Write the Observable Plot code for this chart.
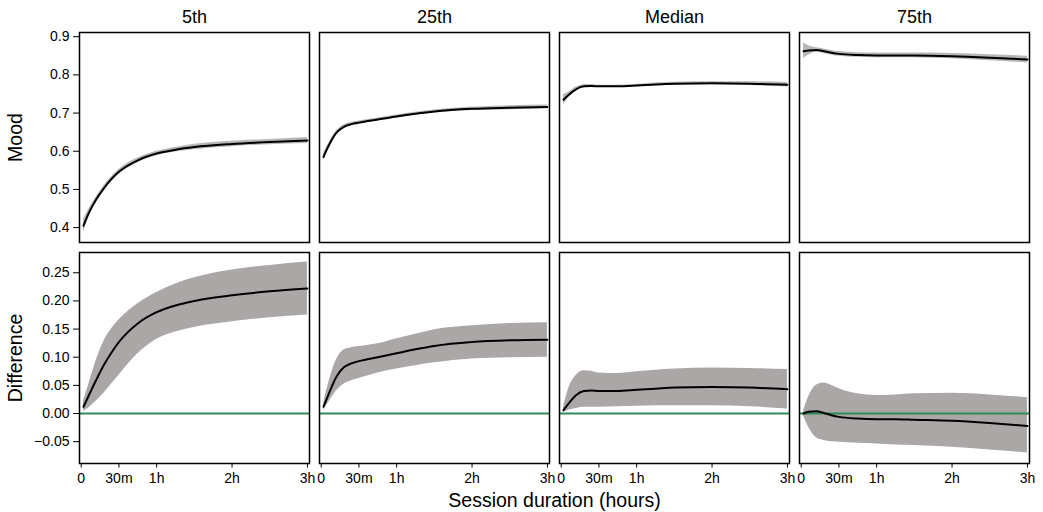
<!DOCTYPE html>
<html>
<head>
<meta charset="utf-8">
<script src="https://cdn.jsdelivr.net/npm/d3@7"></script>
<script src="https://cdn.jsdelivr.net/npm/@observablehq/plot@0.6"></script>
<style>
  body { margin: 0; background: #fff; }
  #chart svg { display: block; }
  #chart svg g[aria-label$="tick label"] { font-size: 14px; }
</style>
</head>
<body>
<div id="chart"></div>
<script>
// ---------- data ----------
const quantiles = ["5th", "25th", "Median", "75th"];
const hours = [0.03, 0.1, 0.2, 0.3, 0.4, 0.5, 0.75, 1, 1.25, 1.5, 2, 2.5, 3];

const xTickValues = [0, 0.5, 1, 2, 3];
const xTickLabels = ["0", "30m", "1h", "2h", "3h"];
const moodTicks = [0.4, 0.5, 0.6, 0.7, 0.8, 0.9];
const diffTicks = [-0.05, 0, 0.05, 0.1, 0.15, 0.2, 0.25];

// Mood (top row)
const mood5    = [0.405, 0.438, 0.474, 0.503, 0.527, 0.546, 0.576, 0.594, 0.604, 0.611, 0.619, 0.624, 0.628];
const mood5Lo  = [0.388, 0.428, 0.467, 0.497, 0.521, 0.54, 0.57, 0.588, 0.598, 0.604, 0.612, 0.617, 0.62];
const mood5Hi  = [0.422, 0.448, 0.481, 0.509, 0.533, 0.552, 0.582, 0.6, 0.61, 0.618, 0.626, 0.631, 0.636];

const mood25   = [0.585, 0.615, 0.648, 0.664, 0.671, 0.675, 0.683, 0.691, 0.698, 0.704, 0.711, 0.714, 0.716];
const mood25Lo = [0.575, 0.609, 0.643, 0.659, 0.667, 0.671, 0.679, 0.687, 0.694, 0.7, 0.707, 0.709, 0.711];
const mood25Hi = [0.595, 0.621, 0.653, 0.669, 0.675, 0.679, 0.687, 0.695, 0.702, 0.708, 0.715, 0.719, 0.721];

const moodMed   = [0.735, 0.748, 0.763, 0.77, 0.771, 0.77, 0.77, 0.772, 0.775, 0.777, 0.778, 0.777, 0.774];
const moodMedLo = [0.722, 0.741, 0.758, 0.766, 0.767, 0.767, 0.767, 0.769, 0.771, 0.773, 0.774, 0.772, 0.768];
const moodMedHi = [0.748, 0.755, 0.768, 0.774, 0.775, 0.773, 0.773, 0.775, 0.779, 0.781, 0.782, 0.782, 0.78];

const mood75   = [0.862, 0.864, 0.865, 0.862, 0.858, 0.855, 0.852, 0.851, 0.851, 0.851, 0.849, 0.845, 0.84];
const mood75Lo = [0.843, 0.852, 0.859, 0.856, 0.852, 0.849, 0.846, 0.845, 0.845, 0.845, 0.842, 0.837, 0.831];
const mood75Hi = [0.884, 0.876, 0.871, 0.868, 0.864, 0.861, 0.858, 0.857, 0.857, 0.857, 0.856, 0.853, 0.849];

// Difference (bottom row)
const diff5    = [0.012, 0.032, 0.06, 0.086, 0.108, 0.127, 0.16, 0.18, 0.192, 0.2, 0.21, 0.217, 0.222];
const diff5Lo  = [0.004, 0.01, 0.022, 0.036, 0.052, 0.068, 0.106, 0.132, 0.145, 0.153, 0.163, 0.17, 0.175];
const diff5Hi  = [0.022, 0.052, 0.095, 0.128, 0.15, 0.166, 0.195, 0.215, 0.23, 0.241, 0.255, 0.263, 0.269];

const diff25   = [0.012, 0.035, 0.065, 0.082, 0.089, 0.093, 0.1, 0.107, 0.114, 0.12, 0.127, 0.13, 0.131];
const diff25Lo = [0.006, 0.02, 0.04, 0.052, 0.058, 0.062, 0.072, 0.079, 0.085, 0.09, 0.097, 0.099, 0.1];
const diff25Hi = [0.017, 0.055, 0.095, 0.113, 0.117, 0.119, 0.124, 0.133, 0.141, 0.149, 0.156, 0.16, 0.161];

const diffMed   = [0.006, 0.018, 0.033, 0.04, 0.041, 0.04, 0.04, 0.042, 0.044, 0.046, 0.047, 0.046, 0.043];
const diffMedLo = [0.002, 0.006, 0.009, 0.011, 0.011, 0.011, 0.012, 0.013, 0.014, 0.014, 0.014, 0.012, 0.008];
const diffMedHi = [0.011, 0.045, 0.068, 0.076, 0.075, 0.072, 0.071, 0.074, 0.077, 0.079, 0.081, 0.08, 0.078];

const diff75   = [0.0, 0.003, 0.004, 0.001, -0.003, -0.006, -0.009, -0.01, -0.01, -0.011, -0.013, -0.017, -0.022];
const diff75Lo = [-0.004, -0.025, -0.043, -0.048, -0.05, -0.051, -0.053, -0.054, -0.056, -0.057, -0.06, -0.065, -0.07];
const diff75Hi = [0.004, 0.03, 0.05, 0.054, 0.05, 0.044, 0.035, 0.032, 0.033, 0.035, 0.036, 0.033, 0.028];

// ---------- build tables ----------
function rows(vals, los, his) {
  const out = [];
  quantiles.forEach((q, k) => hours.forEach((h, i) => out.push({q, h, v: vals[k][i], lo: los[k][i], hi: his[k][i]})));
  return out;
}
const moodRows = rows([mood5, mood25, moodMed, mood75], [mood5Lo, mood25Lo, moodMedLo, mood75Lo], [mood5Hi, mood25Hi, moodMedHi, mood75Hi]);
const diffRows = rows([diff5, diff25, diffMed, diff75], [diff5Lo, diff25Lo, diffMedLo, diff75Lo], [diff5Hi, diff25Hi, diffMedHi, diff75Hi]);

// ---------- plots ----------
const font = "'Liberation Sans', Arial, Helvetica, sans-serif";
const tickFont = 14;
const titleFont = 19.5;
const common = {
  width: 1043,
  marginLeft: 79,
  marginRight: 13,
  x: {domain: [-0.023, 3.027], axis: null},
  style: {fontFamily: font, fontSize: "14px", background: "white", color: "black"}
};

const topPlot = Plot.plot({
  ...common,
  height: 246,
  marginTop: 32,
  marginBottom: 4,
  fx: {domain: quantiles, paddingInner: 0.04, paddingOuter: 0},
  y: {domain: [0.361, 0.911]},
  marks: [
    Plot.axisFx({anchor: "top", tickSize: 0, tickPadding: 10, fontSize: 18, label: null}),
    Plot.areaY(moodRows, {x: "h", y1: "lo", y2: "hi", fx: "q", fill: "#b8b6b6", curve: "monotone-x"}),
    Plot.line(moodRows, {x: "h", y: "v", fx: "q", stroke: "black", strokeWidth: 2, curve: "monotone-x"}),
    Plot.frame({stroke: "black", strokeWidth: 1.5}),
    Plot.axisY({ticks: moodTicks, tickFormat: d3.format(".1f"), tickSize: 6, tickPadding: 4, fontSize: tickFont, label: null}),
    Plot.axisY({ticks: [], tickSize: 0, label: "Mood", labelAnchor: "center", labelOffset: 71, labelArrow: "none", fontSize: titleFont})
  ]
});

const bottomPlot = Plot.plot({
  ...common,
  height: 266,
  marginTop: 6,
  marginBottom: 49,
  fx: {domain: quantiles, paddingInner: 0.04, paddingOuter: 0, axis: null},
  y: {domain: [-0.0888, 0.286]},
  marks: [
    Plot.areaY(diffRows, {x: "h", y1: "lo", y2: "hi", fx: "q", fill: "#aba7a7", curve: "monotone-x"}),
    Plot.ruleY([0], {stroke: "#2e8b57", strokeWidth: 2}),
    Plot.line(diffRows, {x: "h", y: "v", fx: "q", stroke: "black", strokeWidth: 2, curve: "monotone-x"}),
    Plot.frame({stroke: "black", strokeWidth: 1.5}),
    Plot.axisY({ticks: diffTicks, tickFormat: d3.format(".2f"), tickSize: 6, tickPadding: 4, fontSize: tickFont, label: null}),
    Plot.axisY({ticks: [], tickSize: 0, label: "Difference", labelAnchor: "center", labelOffset: 71, labelArrow: "none", fontSize: titleFont}),
    Plot.axisX({ticks: xTickValues, tickFormat: d => xTickLabels[xTickValues.indexOf(d)], tickSize: 4.5, tickPadding: 5, fontSize: tickFont, label: null}),
    Plot.axisX({ticks: [], tickSize: 0, label: "Session duration (hours)", labelAnchor: "center", labelOffset: 43.5, labelArrow: "none", fontSize: titleFont})
  ]
});

const chart = document.getElementById("chart");
chart.appendChild(topPlot);
chart.appendChild(bottomPlot);
</script>
</body>
</html>
